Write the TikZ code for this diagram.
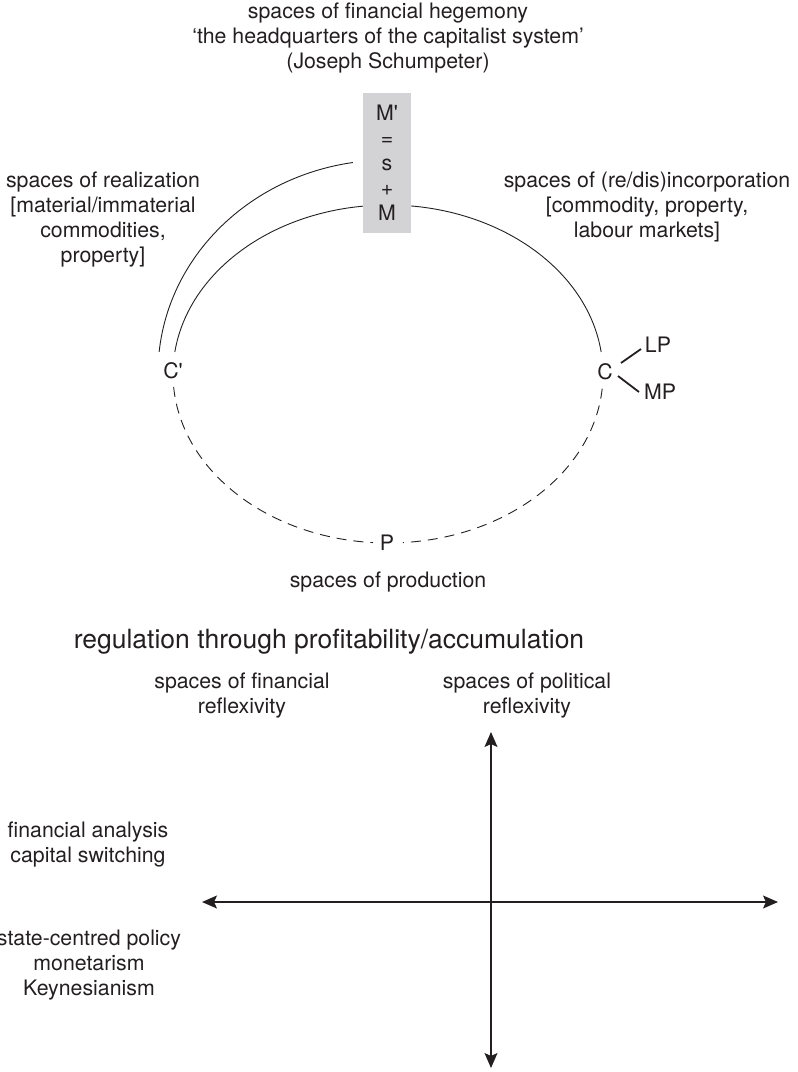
\documentclass[tikz,border=0pt]{standalone}
\usepackage{fontspec}
\setmainfont{TeX Gyre Heros}
\usetikzlibrary{arrows.meta}
\definecolor{ink}{RGB}{35,31,32}
\definecolor{boxgray}{RGB}{211,211,213}
\begin{document}
\begin{tikzpicture}[x=1pt,y=1pt,
  lbl/.style={font=\fontsize{21.3}{25}\selectfont, text=ink, align=center, inner sep=0pt},
  big/.style={font=\fontsize{26.5}{31}\selectfont, text=ink, inner sep=0pt},
  solidarc/.style={draw=ink, line width=0.9pt},
  dasharc/.style={draw=ink, line width=0.9pt, dash pattern=on 10pt off 7pt},
  tickline/.style={draw=ink, line width=1.8pt},
  axis/.style={draw=ink, line width=1.2pt, {Stealth[length=15pt,width=13pt,inset=3pt]}-{Stealth[length=15pt,width=13pt,inset=3pt]}}]
\useasboundingbox (0,0) rectangle (798,-1072);
% cycle arcs
\draw[solidarc] (388,-374) ++(7.5:215 and 169) arc[start angle=7.5, end angle=172.5, x radius=215, y radius=169];
\draw[dasharc] (388,-374) ++(184.4:215 and 169) arc[start angle=184.4, end angle=266, x radius=215, y radius=169];
\draw[dasharc] (388,-374) ++(355:215 and 169) arc[start angle=355, end angle=274, x radius=215, y radius=169];
\draw[solidarc] (388,-373) ++(98.8:230 and 213) arc[start angle=98.8, end angle=174.3, x radius=230, y radius=213];
% box
\node[lbl, fill=boxgray, minimum width=48pt, minimum height=140pt] (box) at (387,-163) {M\textquotesingle\\=\\s\\+\\M};
% labels
\node[lbl] (title) at (388,-38) {spaces of financial hegemony\\`the headquarters of the capitalist system'\\(Joseph Schumpeter)};
\node[lbl] (real) at (103,-220) {spaces of realization\\{[}material/immaterial\\commodities,\\property{]}};
\node[lbl] (inc) at (647,-207) {spaces of (re/dis)incorporation\\{[}commodity, property,\\labour markets{]}};
\node[lbl] (Cp) at (173,-371) {C\textquotesingle};
\node[lbl] (C) at (605,-372) {C};
\node[lbl] (LP) at (658,-345) {LP};
\node[lbl] (MP) at (660,-392) {MP};
\node[lbl] (P) at (387,-543) {P};
\node[lbl] (prod) at (388,-582) {spaces of production};
\node[big] (reg) at (329,-642) {regulation through profitability/accumulation};
\node[lbl] (fin) at (242,-696) {spaces of financial\\reflexivity};
\node[lbl] (pol) at (527,-696) {spaces of political\\reflexivity};
\node[lbl] (fa) at (88,-845) {financial analysis\\capital switching};
\node[lbl] (st) at (89,-965) {state-centred policy\\monetarism\\Keynesianism};
% C -> LP, MP
\draw[tickline] ([shift={(16,9)}]C.center) -- ([shift={(-17,-4)}]LP.center);
\draw[tickline] ([shift={(13,-4)}]C.center) -- ([shift={(-21,0)}]MP.center);
% axes
\coordinate (hl) at (202,-902);
\coordinate (hr) at (778,-902);
\coordinate (vt) at (491,-732);
\coordinate (vb) at (491,-1068);
\draw[axis] (hl) -- (hr);
\draw[axis] (vt) -- (vb);
\end{tikzpicture}
\end{document}
